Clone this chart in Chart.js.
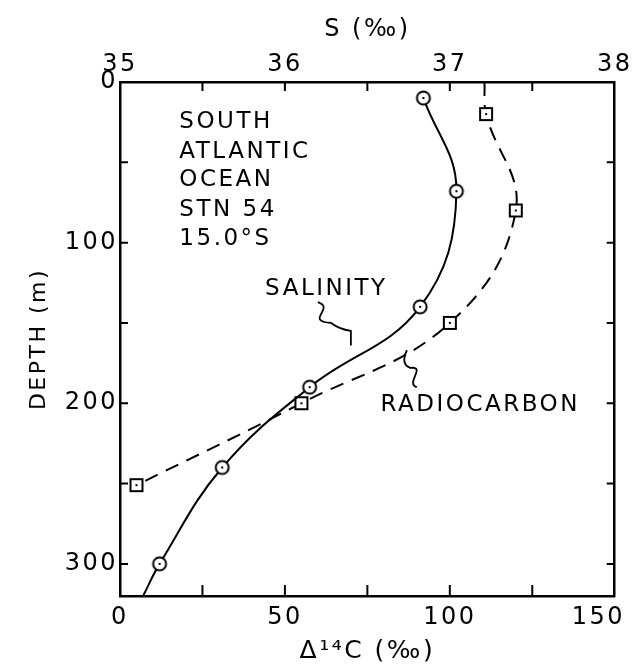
<!DOCTYPE html>
<html>
<head>
<meta charset="utf-8">
<script src="https://cdn.jsdelivr.net/npm/chart.js@4.4.0/dist/chart.umd.min.js"></script>
<style>
  html, body { margin: 0; padding: 0; background: #fff; }
  #wrap { width: 633px; height: 666px; }
</style>
</head>
<body>
<div id="wrap"><canvas id="chart" width="633" height="666"></canvas></div>
<script>
// Salinity profile (S in per mil, depth in m)
const salinityS = [36.84, 37.04, 36.82, 36.15, 35.62, 35.24, 35.14];
const salinityDepth = [10, 68, 140, 190, 240, 300, 320];
const salinityMarked = [true, true, true, true, true, true, false];

// Radiocarbon profile (Delta 14C in per mil, depth in m)
const carbonD14 = [110.5, 111, 120, 100, 55, 5];
const carbonDepth = [0, 20, 80, 150, 200, 251];
const carbonMarked = [false, true, true, true, true, true];

// bottom axis labels (drawn by hand so the last one stays on the page)
const d14Ticks = [0, 50, 100, 150];

const stationLines = ['SOUTH', 'ATLANTIC', 'OCEAN', 'STN 54', '15.0°S'];

const FONT = "'DejaVu Sans', sans-serif";

// little marker images: circle with dot, square with dot
function makeMarker(shape) {
    const c = document.createElement('canvas');
    c.width = 18; c.height = 18;
    const g = c.getContext('2d');
    g.fillStyle = '#fff';
    g.strokeStyle = '#000';
    g.lineWidth = 2;
    g.beginPath();
    if (shape === 'circle') g.arc(9, 9, 6.5, 0, Math.PI * 2);
    else g.rect(3, 3, 12, 12);
    g.fill();
    g.stroke();
    g.fillStyle = '#000';
    g.fillRect(8, 8, 2, 2);
    return c;
}

// wider letter spacing like the hand lettering
const spacing = {
    id: 'spacing',
    beforeDraw(chart) { chart.ctx.letterSpacing = '2.5px'; }
};

// inward tick marks + annotations
const extras = {
    id: 'extras',
    afterDraw(chart) {
        const { ctx, chartArea: a, scales, width } = chart;
        const x = scales.x, xs = scales.xS, y = scales.y;
        ctx.save();
        ctx.strokeStyle = '#000';
        ctx.lineWidth = 2;
        ctx.beginPath();
        [35.5, 36, 36.5, 37, 37.5].forEach(v => {
            const px = xs.getPixelForValue(v);
            ctx.moveTo(px, a.top); ctx.lineTo(px, a.top + 9);
        });
        [25, 50, 75, 100, 125].forEach(v => {
            const px = x.getPixelForValue(v);
            ctx.moveTo(px, a.bottom); ctx.lineTo(px, a.bottom - 11);
        });
        [50, 100, 150, 200, 250, 300].forEach(v => {
            const py = y.getPixelForValue(v);
            ctx.moveTo(a.left, py); ctx.lineTo(a.left + 8, py);
            ctx.moveTo(a.right, py); ctx.lineTo(a.right - 8, py);
        });
        ctx.stroke();

        ctx.fillStyle = '#000';
        ctx.textBaseline = 'middle';

        // bottom tick labels
        ctx.font = '24px ' + FONT;
        ctx.letterSpacing = '2.5px';
        ctx.textAlign = 'center';
        d14Ticks.forEach(v => {
            const w = ctx.measureText(String(v)).width;
            const cx = Math.min(x.getPixelForValue(v), width - w / 2 - 8);
            ctx.fillText(String(v), cx, a.bottom + 22);
        });

        // text labels
        ctx.font = '23px ' + FONT;
        ctx.letterSpacing = '2.5px';
        ctx.textAlign = 'left';
        const rowDepths = [25, 43.6, 61, 80, 98];
        stationLines.forEach((t, i) => {
            ctx.fillText(t, x.getPixelForValue(18), y.getPixelForValue(rowDepths[i]));
        });
        ctx.fillText('SALINITY', x.getPixelForValue(44), y.getPixelForValue(129));
        ctx.fillText('RADIOCARBON', x.getPixelForValue(79), y.getPixelForValue(201));

        // squiggle pointers
        ctx.lineWidth = 1.8;
        ctx.beginPath();
        let p = (d, dep) => [x.getPixelForValue(d), y.getPixelForValue(dep)];
        let s0 = p(60, 137), s1 = p(64, 150), s2 = p(70, 155);
        ctx.moveTo(...s0);
        ctx.bezierCurveTo(s0[0] + 18, s0[1] + 6, s0[0] - 14, s1[1] - 2, ...s1);
        ctx.quadraticCurveTo(s1[0] + 8, s1[1] + 6, ...s2);
        ctx.lineTo(...p(70, 164));
        ctx.stroke();
        ctx.beginPath();
        let r0 = p(90, 190), r1 = p(88, 178), r2 = p(87, 167);
        ctx.moveTo(...r0);
        ctx.bezierCurveTo(r0[0] - 12, r0[1] - 4, r0[0] + 10, r1[1] - 2, ...r1);
        ctx.quadraticCurveTo(r1[0] - 10, r1[1] - 4, ...r2);
        ctx.stroke();
        ctx.restore();
    }
};

const circleImg = makeMarker('circle');
const squareImg = makeMarker('square');

const tickFont = { family: FONT, size: 24 };
const noGrid = { display: false, drawTicks: false };

new Chart(document.getElementById('chart'), {
    type: 'scatter',
    data: {
        datasets: [{
            label: 'Salinity',
            xAxisID: 'xS',
            data: salinityS.map((s, i) => ({ x: s, y: salinityDepth[i] })),
            showLine: true,
            borderColor: '#000',
            borderWidth: 2,
            tension: 0.4,
            pointStyle: circleImg,
            pointRadius: salinityMarked.map(m => m ? 7 : 0),
            pointHoverRadius: 0
        }, {
            label: 'Radiocarbon',
            xAxisID: 'x',
            data: carbonD14.map((d, i) => ({ x: d, y: carbonDepth[i] })),
            showLine: true,
            borderColor: '#000',
            borderWidth: 2,
            borderDash: [14, 9],
            tension: 0.4,
            pointStyle: squareImg,
            pointRadius: carbonMarked.map(m => m ? 7 : 0),
            pointHoverRadius: 0
        }]
    },
    options: {
        responsive: false,
        animation: false,
        layout: { padding: 0, autoPadding: false },
        plugins: {
            legend: { display: false },
            tooltip: { enabled: false }
        },
        scales: {
            x: {
                type: 'linear',
                position: 'bottom',
                min: 0, max: 150,
                grid: noGrid,
                border: { color: '#000', width: 2.5 },
                ticks: { display: false, stepSize: 50 },
                title: { display: true, text: 'Δ¹⁴C (‰)', color: '#000', font: { family: FONT, size: 25 }, padding: { top: 0, bottom: 0 } },
                afterFit: s => { s.height = 70; }
            },
            xS: {
                type: 'linear',
                position: 'top',
                min: 35, max: 38,
                grid: noGrid,
                border: { color: '#000', width: 2.5 },
                ticks: { stepSize: 1, color: '#000', font: tickFont, padding: 3 },
                title: { display: true, text: 'S (‰)', color: '#000', font: { family: FONT, size: 24 }, padding: { top: 15, bottom: 0 } },
                afterFit: s => { s.height = 82; }
            },
            y: {
                type: 'linear',
                reverse: true,
                min: 0, max: 320,
                grid: noGrid,
                border: { color: '#000', width: 2.5 },
                ticks: { stepSize: 100, includeBounds: false, color: '#000', font: tickFont, padding: 2 },
                title: { display: true, text: 'DEPTH (m)', color: '#000', font: { family: FONT, size: 22 }, padding: { top: 26 } },
                afterFit: s => { s.width = 120; }
            },
            yR: {
                type: 'linear',
                position: 'right',
                reverse: true,
                min: 0, max: 320,
                grid: noGrid,
                border: { color: '#000', width: 2.5 },
                ticks: { display: false },
                afterFit: s => { s.width = 18; }
            }
        }
    },
    plugins: [spacing, extras]
});
</script>
</body>
</html>
